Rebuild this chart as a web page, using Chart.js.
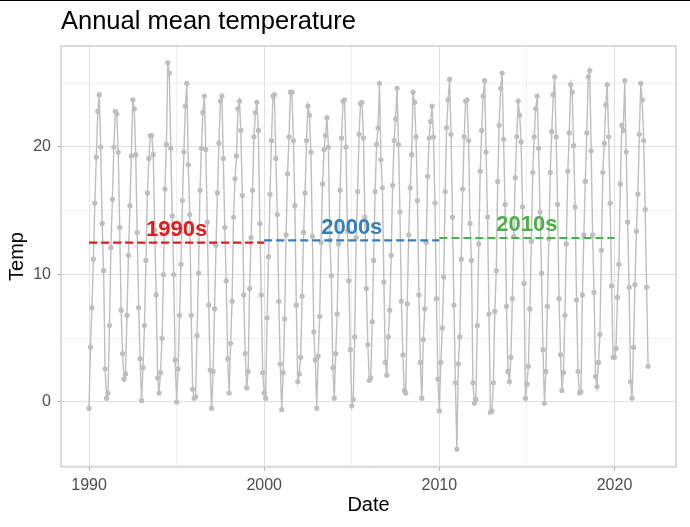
<!DOCTYPE html>
<html>
<head>
<meta charset="utf-8">
<title>Annual mean temperature</title>
<script src="https://cdn.jsdelivr.net/npm/chart.js@4"></script>
<style>
  body { margin: 0; background: #ffffff; }
  canvas { display: block; }
</style>
</head>
<body>
<canvas id="tempChart" width="690" height="527"></canvas>
<script>
// monthly values, one row per year (Jan..Dec)
const firstYear = 1990;

const temp1990s = [
  -0.5, 4.3, 7.4, 11.2, 15.6, 19.2, 22.8, 24.1, 20.0, 14.0, 10.3, 2.6,
  0.3, 0.7, 6.0, 12.1, 15.9, 20.0, 22.8, 22.6, 19.6, 13.7, 7.2, 3.8,
  1.8, 2.2, 6.8, 11.5, 15.4, 19.3, 23.7, 23.0, 19.4, 13.3, 7.4, 3.4,
  0.1, 2.7, 6.0, 11.1, 16.4, 19.1, 20.9, 20.9, 19.4, 13.5, 8.4, 1.9,
  0.7, 2.3, 5.0, 10.0, 16.7, 20.2, 26.6, 25.8, 19.9, 14.6, 10.0, 3.3,
  0.0, 2.6, 6.8, 10.8, 15.8, 19.6, 23.2, 25.0, 18.6, 14.7, 6.8, 1.0,
  0.3, 0.4, 5.2, 10.1, 16.6, 19.9, 22.7, 24.0, 19.8, 14.1, 7.6, 2.5,
  -0.5, 2.4, 7.3, 12.3, 16.4, 20.3, 23.6, 24.0, 19.1, 13.7, 9.5, 3.4,
  0.7, 4.6, 7.9, 14.5, 17.5, 19.3, 23.0, 23.6, 21.3, 16.2, 8.4, 3.8,
  1.1, 2.4, 8.9, 12.9, 16.6, 20.8, 22.7, 23.5, 21.3, 14.0, 8.4, 2.3
];

const temp2000s = [
  0.7, 0.3, 6.6, 11.4, 16.3, 20.5, 24.0, 24.1, 19.1, 14.7, 7.9, 3.0,
  -0.6, 2.3, 6.5, 13.1, 17.9, 20.8, 24.3, 24.3, 20.5, 15.4, 7.6, 1.6,
  2.2, 3.5, 8.3, 13.3, 16.4, 20.5, 23.2, 22.5, 19.6, 13.0, 5.5, 3.3,
  -0.5, 3.6, 6.7, 12.5, 17.1, 19.8, 20.9, 22.3, 20.0, 12.7, 9.9, 2.7,
  0.3, 3.8, 6.9, 12.4, 16.6, 20.7, 23.6, 23.7, 20.0, 13.4, 9.5, 4.1,
  -0.3, 0.2, 5.1, 12.9, 16.5, 21.0, 23.4, 23.5, 20.7, 14.5, 8.9, 4.5,
  1.7, 1.9, 6.3, 11.1, 16.5, 20.2, 21.5, 25.0, 19.0, 16.8, 9.4, 3.1,
  2.1, 5.1, 7.2, 11.5, 17.0, 20.5, 22.2, 24.6, 20.2, 14.9, 7.9, 3.7,
  0.9, 0.7, 7.7, 13.1, 16.8, 19.4, 24.3, 23.5, 20.8, 15.8, 8.4, 3.1,
  0.3, 4.9, 7.3, 12.5, 17.7, 20.7, 22.0, 23.2, 20.8, 15.6, 8.1, 1.8
];

const temp2010s = [
  -0.7, 3.1, 5.8, 9.8, 16.5, 21.5, 23.7, 25.3, 21.0, 14.5, 7.6, 1.5,
  -3.7, 3.0, 5.1, 11.2, 16.7, 20.8, 23.6, 23.7, 20.5, 14.0, 11.1, 1.5,
  -0.1, 0.2, 6.0, 12.4, 18.1, 21.3, 24.0, 25.2, 19.6, 14.5, 6.9, -0.8,
  -0.7, 1.5, 7.1, 10.3, 17.3, 21.7, 24.6, 25.8, 20.6, 15.5, 7.5, 2.4,
  1.6, 3.5, 8.1, 13.0, 17.6, 20.8, 23.6, 22.5, 20.4, 15.3, 9.3, 0.3,
  1.4, 2.8, 7.3, 12.6, 18.0, 20.8, 23.0, 24.0, 19.9, 14.9, 10.1, 4.1,
  -0.1, 2.4, 7.5, 12.8, 18.0, 21.2, 24.1, 25.5, 20.8, 15.5, 8.1, 3.7,
  0.9, 2.3, 6.8, 12.4, 18.1, 21.1, 24.9, 24.3, 20.1, 15.3, 8.0, 2.4,
  0.7, 0.8, 8.4, 13.1, 17.3, 21.1, 25.5, 26.0, 19.7, 13.1, 8.6, 2.0,
  1.2, 3.1, 5.3, 11.9, 18.0, 20.3, 23.3, 24.9, 20.8, 15.6, 9.1, 3.5
];

const temp2020s = [
  3.5, 4.2, 8.2, 10.8, 17.1, 21.7, 21.3, 25.2, 19.6, 14.1, 9.0, 1.6,
  0.3, 4.3, 9.2, 13.4, 16.3, 21.0, 25.0, 23.7, 20.5, 15.1, 9.0, 2.8
];

// decade means (dashed segments + labels)
const decadeNames = ['1990s', '2000s', '2010s'];
const decadeFrom = [1990, 2000, 2010];
const decadeMeans = [12.5, 12.68, 12.86];

const xTicks = [1990, 1995, 2000, 2005, 2010, 2015, 2020];
const xLabelled = [1990, 2000, 2010, 2020];
const yTicks = [-5, 0, 5, 10, 15, 20, 25];
const yLabelled = [0, 10, 20];

const decadeColors = ['#e41a1c', '#377eb8', '#4daf4a'];
const FONT = "'Liberation Sans', Arial, sans-serif";

const temps = [].concat(temp1990s, temp2000s, temp2010s, temp2020s);
const points = temps.map((t, i) => ({ x: firstYear + i / 12, y: t }));

const datasets = decadeNames.map((name, i) => ({
  label: name,
  data: [
    { x: decadeFrom[i], y: decadeMeans[i] },
    { x: decadeFrom[i] + 10, y: decadeMeans[i] }
  ],
  borderColor: decadeColors[i],
  borderWidth: 2.2,
  borderDash: [8, 4],
  pointRadius: 0,
  order: 0
}));
datasets.push({
  label: 'Temp',
  data: points,
  borderColor: '#bebebe',
  borderWidth: 1.4,
  pointRadius: 2.6,
  pointBackgroundColor: '#bebebe',
  pointBorderWidth: 0,
  order: 1
});

// panel border, title, decade labels
const decor = {
  id: 'decor',
  afterDatasetsDraw(chart) {
    const { ctx, chartArea: a, scales } = chart;
    ctx.save();
    ctx.strokeStyle = '#c4c4c4';
    ctx.lineWidth = 1.2;
    ctx.strokeRect(a.left, a.top, a.right - a.left, a.bottom - a.top);

    ctx.font = 'bold 22px ' + FONT;
    ctx.textAlign = 'center';
    ctx.textBaseline = 'middle';
    decadeNames.forEach((name, i) => {
      ctx.fillStyle = decadeColors[i];
      ctx.fillText(name,
        scales.x.getPixelForValue(decadeFrom[i] + 5),
        scales.y.getPixelForValue(decadeMeans[i] + 1));
    });

    ctx.fillStyle = '#000000';
    ctx.font = '25.5px ' + FONT;
    ctx.textAlign = 'left';
    ctx.textBaseline = 'alphabetic';
    ctx.fillText('Annual mean temperature', a.left, 29);
    ctx.fillRect(0, 0, chart.width, 1);
    ctx.restore();
  }
};

const gridColor = (ctx, major) =>
  major.includes(ctx.tick && ctx.tick.value) ? '#e0e0e0' : '#f0f0f0';
const tickColor = (ctx, major) =>
  major.includes(ctx.tick && ctx.tick.value) ? '#b3b3b3' : 'rgba(0,0,0,0)';

new Chart(document.getElementById('tempChart'), {
  type: 'line',
  data: { datasets: datasets },
  options: {
    responsive: false,
    animation: false,
    layout: { padding: { top: 46, right: 14, left: 0, bottom: 0 } },
    plugins: { legend: { display: false }, tooltip: { enabled: false } },
    scales: {
      x: {
        type: 'linear',
        min: 1988.4,
        max: 2023.51,
        afterBuildTicks: s => { s.ticks = xTicks.map(v => ({ value: v })); },
        afterFit: s => { s.height = 60; },
        border: { display: false },
        grid: {
          color: c => gridColor(c, xLabelled),
          lineWidth: 1,
          tickLength: 4,
          tickColor: c => tickColor(c, xLabelled)
        },
        ticks: {
          autoSkip: false,
          maxRotation: 0,
          padding: 5,
          color: '#4d4d4d',
          font: { family: FONT, size: 16 },
          callback: v => xLabelled.includes(v) ? String(v) : ''
        },
        title: {
          display: true,
          text: 'Date',
          color: '#000000',
          font: { family: FONT, size: 20 },
          padding: { top: 0, bottom: 10 }
        }
      },
      y: {
        min: -5.1,
        max: 27.92,
        afterBuildTicks: s => { s.ticks = yTicks.map(v => ({ value: v })); },
        afterFit: s => { s.width = 61; },
        border: { display: false },
        grid: {
          color: c => gridColor(c, yLabelled),
          lineWidth: 1,
          tickLength: 4,
          tickColor: c => tickColor(c, yLabelled)
        },
        ticks: {
          padding: 6,
          color: '#4d4d4d',
          font: { family: FONT, size: 16 },
          callback: v => yLabelled.includes(v) ? String(v) : ''
        },
        title: {
          display: true,
          text: 'Temp',
          color: '#000000',
          font: { family: FONT, size: 20 },
          padding: { top: 5, bottom: 0 }
        }
      }
    }
  },
  plugins: [decor]
});
</script>
</body>
</html>
